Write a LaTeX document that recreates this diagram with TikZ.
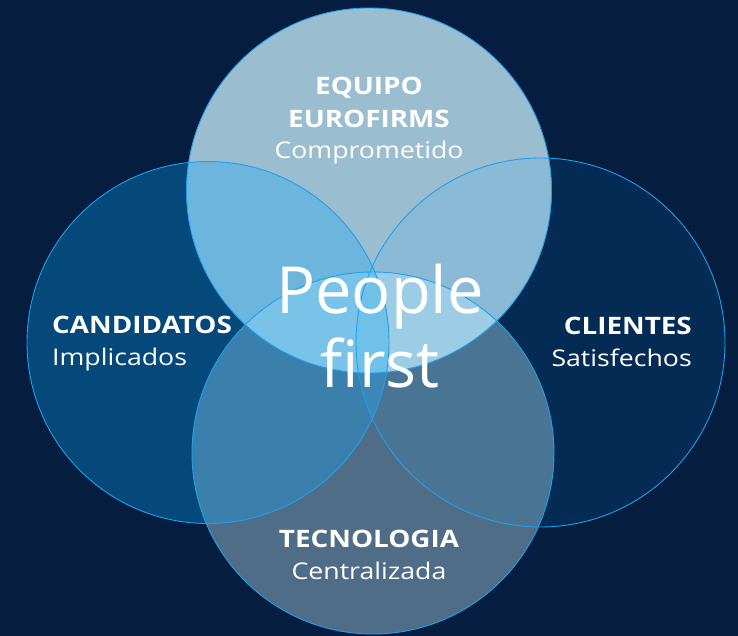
\documentclass[tikz,border=0pt]{standalone}
\usepackage{fontspec}
\setmainfont{Open Sans}
\newfontfamily\widefont{Open Sans}[FakeStretch=1.16]

% palette
\definecolor{navybg}{RGB}{5,29,62}
\definecolor{fillL}{RGB}{4,73,122}
\definecolor{fillR}{RGB}{4,43,83}
\definecolor{fillT}{RGB}{155,189,208}
\definecolor{fillB}{RGB}{80,109,136}
\definecolor{fillLT}{RGB}{108,182,222}
\definecolor{fillRT}{RGB}{138,186,213}
\definecolor{fillLB}{RGB}{59,128,172}
\definecolor{fillRB}{RGB}{74,116,148}
\definecolor{fillTB}{RGB}{140,198,228}
\definecolor{fillLR}{RGB}{58,132,182}
\definecolor{fillLTB}{RGB}{122,195,232}
\definecolor{fillRTB}{RGB}{157,204,229}
\definecolor{fillLRB}{RGB}{60,134,184}
\definecolor{fillLRT}{RGB}{108,186,226}
\definecolor{fillAll}{RGB}{111,193,234}
\definecolor{ringblue}{RGB}{30,160,240}

\tikzset{
  ring/.style={draw=ringblue, line width=0.9pt},
  heading/.style={text=white, inner sep=0pt, font=\widefont\fontsize{24}{28}\selectfont\bfseries},
  subline/.style={text=white, inner sep=0pt, font=\widefont\fontsize{23}{28}\selectfont},
  motto/.style={text=white, inner sep=0pt, font=\fontsize{65}{74}\selectfont},
}

\begin{document}
\begin{tikzpicture}[x=1pt,y=-1pt]
\useasboundingbox (0,0) rectangle (738,636);
\fill[navybg] (0,0) rectangle (738,636);

% circle centres
\coordinate (cL) at (208,342.5);
\coordinate (cR) at (540.5,342.5);
\coordinate (cT) at (369,190.5);
\coordinate (cB) at (373,453);
\def\circL{(cL) circle[radius=181]}
\def\circR{(cR) circle[radius=184.5]}
\def\circT{(cT) circle[radius=182.5]}
\def\circB{(cB) circle[radius=181]}

% single circles
\fill[fillL] \circL;
\fill[fillR] \circR;
\fill[fillT] \circT;
\fill[fillB] \circB;

% pairwise overlaps
\begin{scope}\clip \circT; \fill[fillLT] \circL; \end{scope}
\begin{scope}\clip \circT; \fill[fillRT] \circR; \end{scope}
\begin{scope}\clip \circB; \fill[fillLB] \circL; \end{scope}
\begin{scope}\clip \circB; \fill[fillRB] \circR; \end{scope}
\begin{scope}\clip \circT; \fill[fillTB] \circB; \end{scope}
\begin{scope}\clip \circL; \fill[fillLR] \circR; \end{scope}

% triple overlaps
\begin{scope}\clip \circT; \clip \circB; \fill[fillLTB] \circL; \end{scope}
\begin{scope}\clip \circT; \clip \circB; \fill[fillRTB] \circR; \end{scope}
\begin{scope}\clip \circL; \clip \circR; \fill[fillLRB] \circB; \end{scope}
\begin{scope}\clip \circL; \clip \circR; \fill[fillLRT] \circT; \end{scope}

% centre, all four
\begin{scope}\clip \circL; \clip \circR; \clip \circT; \fill[fillAll] \circB; \end{scope}

% outlines
\draw[ring] \circL;
\draw[ring] \circR;
\draw[ring] \circB;
\draw[ring] \circT;

% labels
\node[heading, anchor=base] (eq1) at (369,95) {EQUIPO};
\node[heading, anchor=base] (eq2) at (369,128) {EUROFIRMS};
\node[subline, anchor=base] (eq3) at (369,159) {Comprometido};

\node[heading, anchor=base west] (ca1) at (52,333) {CANDIDATOS};
\node[subline, anchor=base west] (ca2) at (52,365) {Implicados};

\node[heading, anchor=base east] (cl1) at (692,334) {CLIENTES};
\node[subline, anchor=base east] (cl2) at (692,366) {Satisfechos};

\node[heading, anchor=base] (te1) at (369,547) {TECNOLOGIA};
\node[subline, anchor=base] (te2) at (369,579) {Centralizada};

\node[motto, anchor=base] (pf1) at (380,313) {People};
\node[motto, anchor=base] (pf2) at (380,387) {first};
\end{tikzpicture}
\end{document}
